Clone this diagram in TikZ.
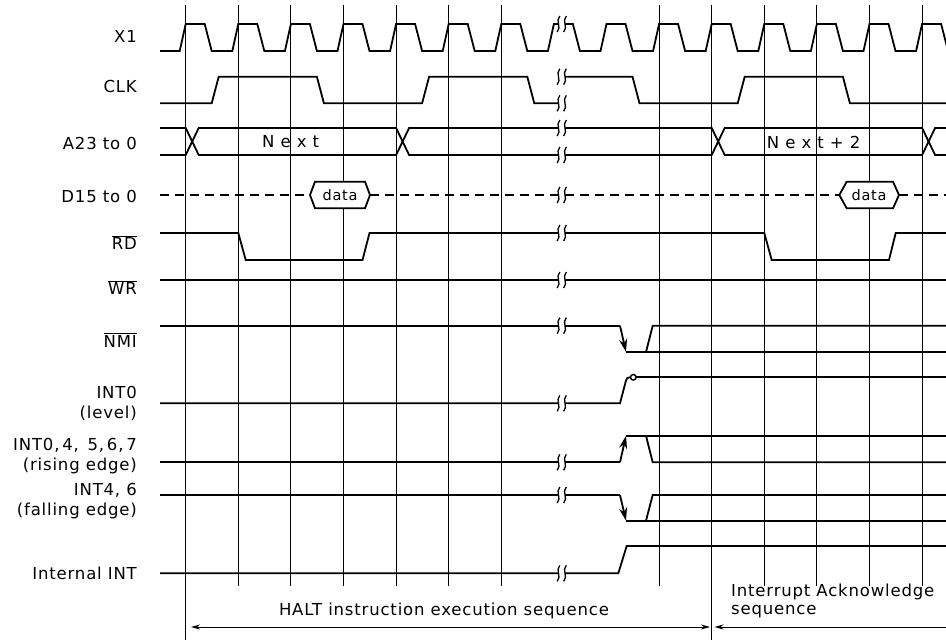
\documentclass[tikz,border=0pt]{standalone}
\usepackage{fontspec}
\setmainfont{DejaVu Sans}[LetterSpace=5]
\usetikzlibrary{arrows.meta}
\tikzset{
  sig/.style={line width=1.8pt},
  gridline/.style={line width=0.9pt},
  brk/.style={line width=1.3pt},
  lbl/.style={anchor=east, inner sep=0pt, align=right, font=\fontsize{16.5}{20}\selectfont},
  txt/.style={inner sep=0pt, font=\fontsize{16.5}{18.5}\selectfont},
  dtxt/.style={inner sep=0pt, font=\fontsize{14.5}{16}\selectfont},
  edgearr/.style={sig, -{Stealth[length=13pt,width=8pt]}},
  seqarr/.style={line width=1pt},
}
\newcommand\brkmark[1]{%
  \fill[white] (558.5,{#1-4}) rectangle (565,{#1+4});
  \foreach \bx in {558.5,565}{\draw[brk] (\bx+1.3,{#1-8}) .. controls (\bx-3.5,{#1-3}) and (\bx+3.5,{#1+3}) .. (\bx-1.3,{#1+8});}
}
\begin{document}
\begin{tikzpicture}[x=1pt,y=-1pt]
\useasboundingbox (0,0) rectangle (946,640);
\clip (0,0) rectangle (946,640);

% grid lines
\foreach \g in {238.3,290.9,343.5,396.1,448.7,501.3,659.1,764.3,816.9,869.5,922.1}
  \draw[gridline] (\g,5) -- (\g,586);
\foreach \g in {185.7,711.7}
  \draw[gridline] (\g,5) -- (\g,640);

% X1
\draw[sig] (160,51) -- (179.7,51)
  \foreach \g in {185.7,238.3,290.9,343.5,396.1,448.7,501.3} { -- (\g,24) -- (\g+19,24) -- (\g+26,51) -- (\g+46.6,51) }
  -- (553.9,24) -- (572.9,24) -- (579.9,51) -- (600.5,51)
  \foreach \g in {606.5,659.1,711.7,764.3,816.9,869.5,922.1} { -- (\g,24) -- (\g+19,24) -- (\g+26,51) -- (\g+46.6,51) };

% CLK
\draw[sig] (160,103.3) -- (211.7,103.3) -- (218.7,76.7) -- (316.9,76.7) -- (323.9,103.3)
  -- (422.1,103.3) -- (429.1,76.7) -- (527.3,76.7) -- (534.3,103.3) -- (562,103.3);
\draw[sig] (562,76.7) -- (632.5,76.7) -- (639.5,103.3) -- (737.7,103.3) -- (744.7,76.7)
  -- (842.9,76.7) -- (849.9,103.3) -- (946,103.3);

% A23 to 0
\draw[sig] (160,128) -- (185.7,128) -- (198.7,155) -- (396.1,155) -- (409.1,128) -- (711.7,128)
  -- (724.7,155) -- (922.1,155) -- (935.1,128) -- (946,128);
\draw[sig] (160,155) -- (185.7,155) -- (198.7,128) -- (396.1,128) -- (409.1,155) -- (711.7,155)
  -- (724.7,128) -- (922.1,128) -- (935.1,155) -- (946,155);
\node[txt, anchor=west] (next1) at (262,142) {N e x t};
\node[txt, anchor=west] (next2) at (766.7,142) {N e x t + 2};

% D15 to 0
\draw[sig, dash pattern=on 9pt off 6pt] (160,195) -- (310,195);
\draw[sig, dash pattern=on 9pt off 6pt] (370,195) -- (839.3,195);
\draw[sig, dash pattern=on 9pt off 6pt] (899,195) -- (946,195);
\draw[sig, fill=white] (310,195) -- (315,181.7) -- (365,181.7) -- (370,195) -- (365,208.3) -- (315,208.3) -- cycle;
\node[dtxt] (data1) at (340,195) {data};
\draw[sig, fill=white] (839.3,195) -- (846.7,181.7) -- (893,181.7) -- (899,195) -- (893,208.3) -- (846.7,208.3) -- cycle;
\node[dtxt] (data2) at (869,195) {data};

% RD
\draw[sig] (160,233) -- (238.3,233) -- (245.7,260) -- (362.5,260) -- (369.5,233) -- (764.3,233)
  -- (771.7,260) -- (889,260) -- (895.7,233) -- (946,233);
% WR
\draw[sig] (160,280) -- (946,280);

% NMI
\draw[sig] (160,325.7) -- (620,325.7);
\draw[edgearr] (620,325.7) -- (626,352);
\draw[sig] (626,352) -- (946,352);
\draw[sig] (646,352) -- (652.7,325.7) -- (946,325.7);

% INT0 level
\draw[sig] (160,403.3) -- (620,403.3) -- (626,380.5) .. controls (627,377.8) .. (630.5,377.3);
\draw[line width=1.4pt] (633.3,377.3) circle (2.8);
\draw[sig] (636.1,377.3) -- (946,377.3);

% INT rising
\draw[sig] (160,462.3) -- (620,462.3);
\draw[edgearr] (620,462.3) -- (626,435.7);
\draw[sig] (626,435.7) -- (946,435.7);
\draw[sig] (646,435.7) -- (652.7,462.3) -- (946,462.3);

% INT falling
\draw[sig] (160,495) -- (620,495);
\draw[edgearr] (620,495) -- (626,520.7);
\draw[sig] (626,520.7) -- (946,520.7);
\draw[sig] (646,520.7) -- (652.7,495) -- (946,495);

% Internal INT
\draw[sig] (160,573.3) -- (618.3,573.3) -- (626.7,546) -- (946,546);

% break marks
\foreach \y in {24,76.7,103.3,128,155,195,233,280,325.7,403.3,462.3,495,573.3}
  \brkmark{\y};

% labels
\node[lbl] (lx1) at (137,36.7) {X1};
\node[lbl] (lclk) at (137,86) {CLK};
\node[lbl] (la) at (137,143) {A23 to 0};
\node[lbl] (ld) at (137,196.7) {D15 to 0};
\node[lbl] (lrd) at (137,242.7) {$\overline{\mbox{RD}}$};
\node[lbl] (lwr) at (137,287.7) {$\overline{\mbox{WR}}$};
\node[lbl] (lnmi) at (137,340) {$\overline{\mbox{NMI}}$};
\node[lbl] (lint0) at (137,403) {INT0\\(level)};
\node[lbl] (lrise) at (137,456) {INT0,\,4,\ \,5,\,6,\,7\\(rising edge)};
\node[lbl] (lfall) at (137,501.3) {INT4, 6\\(falling edge)};
\node[lbl] (lint) at (137,573) {Internal INT};

% sequences
\coordinate (haltL) at (191,627);
\coordinate (haltR) at (710,627);
\coordinate (ackL) at (714.5,627);
\coordinate (ackR) at (946,627);
\draw[seqarr, {Stealth[length=9pt,width=5pt]}-{Stealth[length=9pt,width=5pt]}] (haltL) -- (haltR);
\draw[seqarr, {Stealth[length=9pt,width=5pt]}-] (ackL) -- (ackR);
\node[txt] (halt) at (444,611) {HALT instruction execution sequence};
\node[txt, anchor=west, align=left] (ack) at (731,601) {Interrupt Acknowledge\\sequence};
\end{tikzpicture}
\end{document}
